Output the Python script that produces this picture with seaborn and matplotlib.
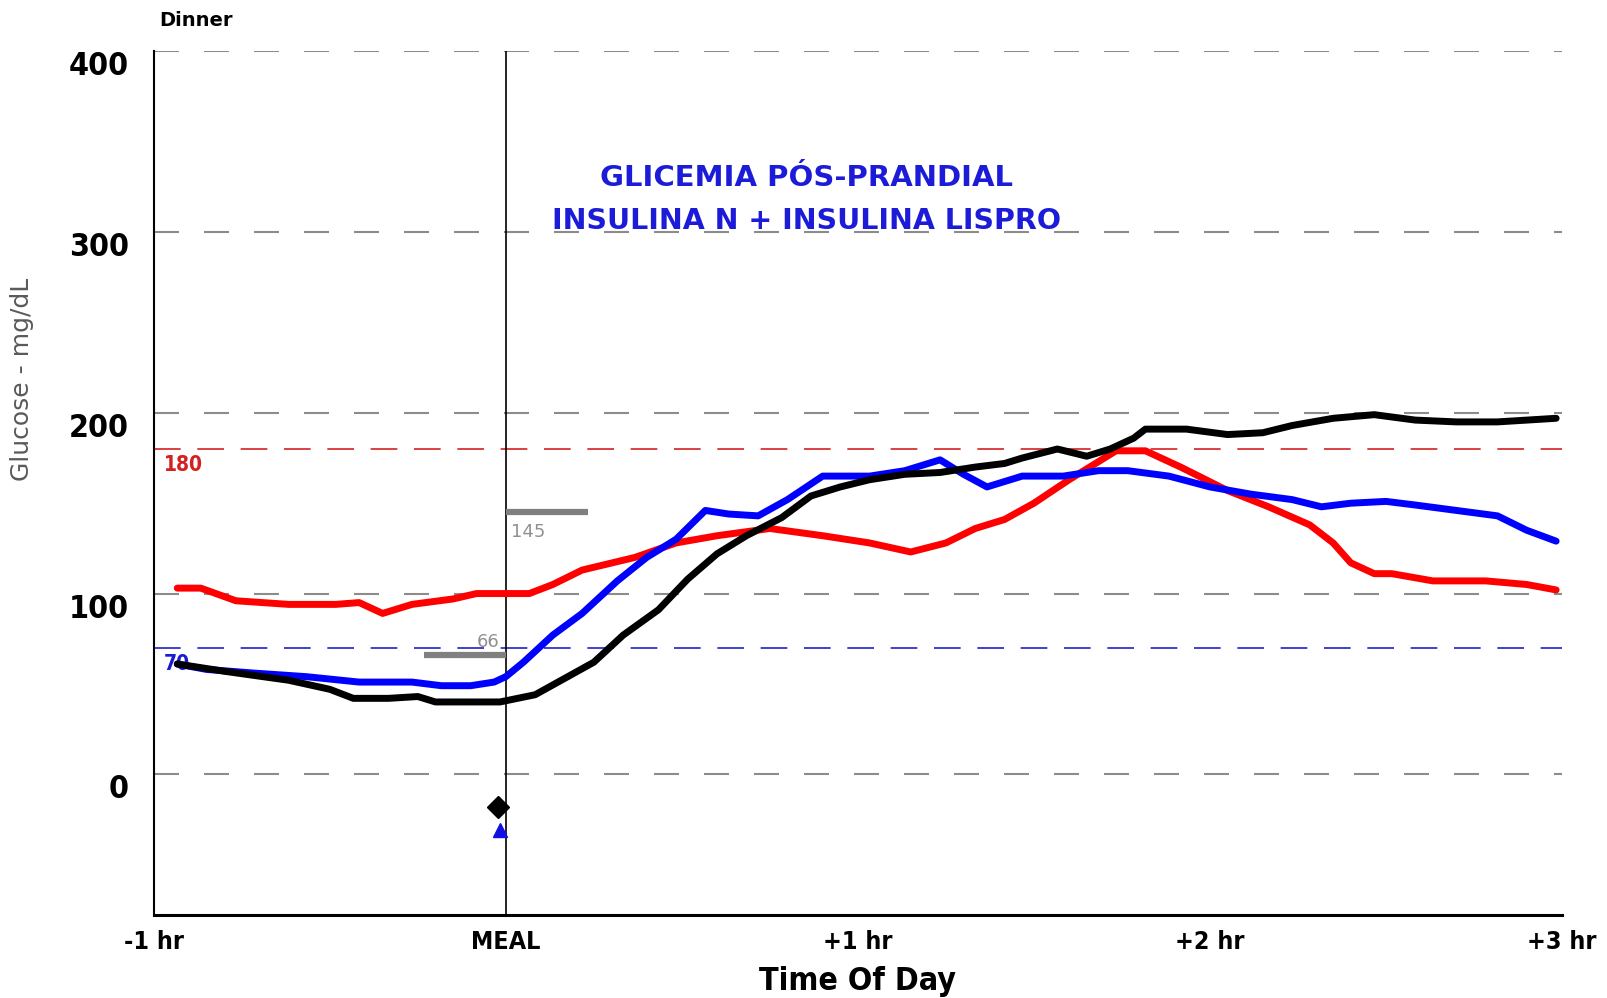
import numpy as np
import pandas as pd
import matplotlib
matplotlib.use("Agg")
import matplotlib.pyplot as plt
import matplotlib.transforms as mtransforms
import seaborn as sns

# Curvas de glicemia (tempo em minutos em relacao a refeicao, glicose em mg/dL)
red_t = [-56, -52, -46, -37, -29, -25, -21, -16, -9, -5, 4, 8, 13, 22, 29, 36, 45,
         54, 62, 69, 75, 80, 85, 90, 96, 101, 104, 109, 115, 123, 130, 137, 141,
         144, 148, 151, 158, 167, 174, 179]
red_v = [103, 103, 96, 94, 94, 95, 89, 94, 97, 100, 100, 105, 113, 120, 128, 132, 136,
         132, 128, 123, 128, 136, 141, 150, 163, 173, 179, 179, 170, 157, 148, 138, 128,
         117, 111, 111, 107, 107, 105, 102]

blue_t = [-56, -51, -43, -34, -25, -16, -11, -6, -2, 0, 3, 8, 13, 19, 24, 29, 34, 38,
          43, 48, 54, 62, 68, 74, 78, 82, 88, 95, 101, 106, 113, 120, 127, 134, 139,
          144, 150, 155, 162, 169, 174, 179]
blue_v = [61, 58, 56, 54, 51, 51, 49, 49, 51, 54, 62, 77, 89, 107, 120, 130, 146, 144,
          143, 152, 165, 165, 168, 174, 166, 159, 165, 165, 168, 168, 165, 159, 155, 152,
          148, 150, 151, 149, 146, 143, 135, 129]

black_t = [-56, -48, -37, -30, -26, -20, -15, -12, -6, -1, 5, 10, 15, 20, 26, 31, 36,
           41, 47, 52, 57, 62, 68, 74, 80, 85, 88, 94, 99, 103, 107, 109, 116, 123, 129,
           134, 141, 148, 155, 162, 169, 174, 179]
black_v = [61, 57, 52, 47, 42, 42, 43, 40, 40, 40, 44, 53, 62, 77, 91, 108, 122, 132,
           142, 154, 159, 163, 166, 167, 170, 172, 175, 180, 176, 180, 186, 191, 191, 188,
           189, 193, 197, 199, 196, 195, 195, 196, 197]

x_ticks = [-60, 0, 60, 120, 180]
x_labels = ["-1 hr", "MEAL", "+1 hr", "+2 hr", "+3 hr"]
y_ticks = [0, 100, 200, 300, 400]

high_limit = 180
low_limit = 70
pre_meal = 66
post_meal = 145

df = pd.concat([
    pd.DataFrame({"t": red_t, "glucose": red_v, "serie": "red"}),
    pd.DataFrame({"t": blue_t, "glucose": blue_v, "serie": "blue"}),
    pd.DataFrame({"t": black_t, "glucose": black_v, "serie": "black"}),
])

sns.set_theme(style="white")
plt.rcParams["font.family"] = ["DejaVu Sans"]
plt.rcParams["text.color"] = "black"

fig = plt.figure(figsize=(16.07, 9.98), dpi=100)
ax = fig.add_axes([0.0957, 0.083, 0.8763, 0.8654])

# grades tracejadas
for v in y_ticks:
    ax.axhline(v, color="#8c8c8c", lw=1.5, ls=(0, (12, 12)), zorder=1)
ax.axhline(high_limit, color="#d42020", lw=1.2, ls=(0, (16, 10)), zorder=1)
ax.axhline(low_limit, color="#2020c8", lw=1.2, ls=(0, (16, 10)), zorder=1)
ax.axvline(0, color="black", lw=1.2, zorder=1)

ax.text(-58.3, 171, str(high_limit), color="#d42020", fontsize=15, fontweight="bold",
        va="center", ha="left", fontstretch="condensed", zorder=2)
ax.text(-58.3, 61, str(low_limit), color="#1a1ad0", fontsize=15, fontweight="bold",
        va="center", ha="left", fontstretch="condensed", zorder=2)

sns.lineplot(data=df, x="t", y="glucose", hue="serie", sort=False, estimator=None,
             palette={"red": "#ff0000", "blue": "#0000ff", "black": "black"},
             hue_order=["red", "blue", "black"], lw=5, legend=False, ax=ax, zorder=3)

# media pre e pos refeicao
ax.plot([-14, 0], [pre_meal, pre_meal], color="#808080", lw=4.5, solid_capstyle="butt", zorder=2)
ax.plot([0, 14], [post_meal, post_meal], color="#808080", lw=4.5, solid_capstyle="butt", zorder=2)
ax.text(-5, 73, str(pre_meal), color="#909090", fontsize=13, ha="left", va="center")
ax.text(0.8, 134, str(post_meal), color="#909090", fontsize=13, ha="left", va="center")

ax.plot([-1.4], [-18], marker="D", color="black", ms=11, ls="none", zorder=4)
ax.plot([-1], [-31], marker="^", color="#1010e0", ms=10, ls="none", zorder=4)

ax.text(51.3, 330, "GLICEMIA PÓS-PRANDIAL", color="#1c1cd8", fontsize=21,
        fontweight="bold", ha="center", va="center")
ax.text(51.3, 306, "INSULINA N + INSULINA LISPRO", color="#1c1cd8", fontsize=20.5,
        fontweight="bold", ha="center", va="center")

ax.set_xlim(-60, 180)
ax.set_ylim(-78, 400)
ax.set_xticks(x_ticks)
ax.set_xticklabels(x_labels, fontsize=18, fontweight="bold", fontstretch="condensed")
ax.set_yticks(y_ticks)
ax.set_yticklabels([str(v) for v in y_ticks], fontsize=23, fontweight="bold",
                   fontstretch="condensed")
shift = mtransforms.ScaledTranslation(0, -7 / 72, fig.dpi_scale_trans)
for lab in ax.get_yticklabels():
    lab.set_va("top")
    lab.set_transform(lab.get_transform() + shift)
ax.tick_params(axis="y", direction="out", length=17, width=1.5, pad=1, colors="black")
ax.tick_params(axis="x", direction="in", length=6, width=1, pad=11, colors="black")

ax.set_xlabel("Time Of Day", fontsize=23, fontweight="bold", fontstretch="condensed",
              color="black", labelpad=8)
ax.set_ylabel("Glucose - mg/dL", fontsize=18, color="#5a5a5a", labelpad=22)
ax.yaxis.set_label_coords(-0.085, 0.62)

for s in ["top", "right"]:
    ax.spines[s].set_visible(False)
ax.spines["left"].set_color("black")
ax.spines["left"].set_linewidth(1.5)
ax.spines["bottom"].set_color("black")
ax.spines["bottom"].set_linewidth(2.2)

fig.text(159 / 1607, 1 - 20.5 / 998, "Dinner", fontsize=14, fontweight="bold",
         color="black", va="center")

fig.savefig("out.png", dpi=100, facecolor="white")
